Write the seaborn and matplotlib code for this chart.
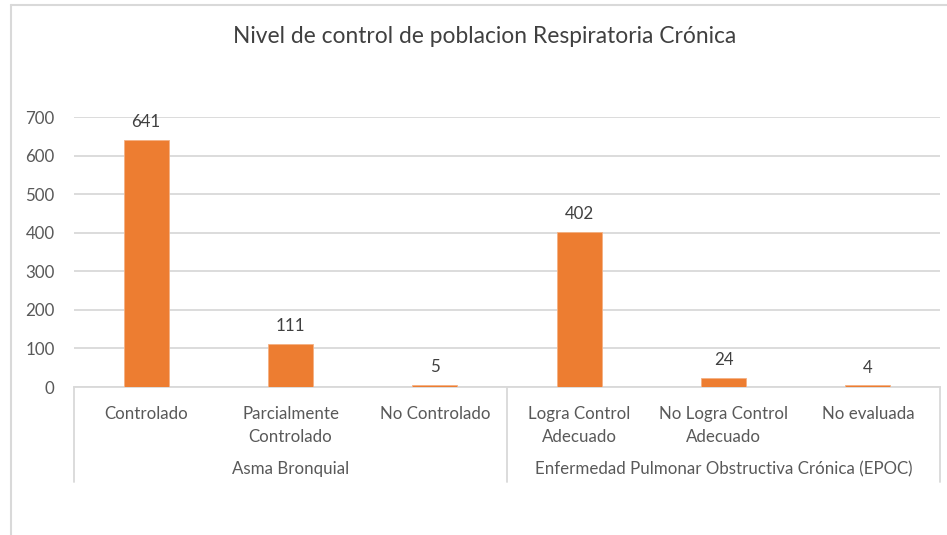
import matplotlib
matplotlib.use("Agg")
import matplotlib.pyplot as plt
import seaborn as sns
import pandas as pd

title = "Nivel de control de poblacion Respiratoria Crónica"
categorias = ["Controlado", "Parcialmente\nControlado", "No Controlado",
              "Logra Control\nAdecuado", "No Logra Control\nAdecuado", "No evaluada"]
grupos = ["Asma Bronquial", "Enfermedad Pulmonar Obstructiva Crónica (EPOC)"]
grupo_de = [0, 0, 0, 1, 1, 1]
valores = [641, 111, 5, 402, 24, 4]
yticks = [0, 100, 200, 300, 400, 500, 600, 700]

df = pd.DataFrame({"Categoria": categorias, "Valor": valores})

sns.set_style("white")
plt.rcParams["font.family"] = ["Lato", "DejaVu Sans"]
txt = "#595959"
grid = "#D9D9D9"
fs = 12.2

fig = plt.figure(figsize=(9.47, 5.35), dpi=100)
ax = fig.add_axes([74 / 947, 1 - 387 / 535, 866 / 947, 270 / 535])

sns.barplot(data=df, x="Categoria", y="Valor", order=categorias,
            color="#ED7D31", width=0.31, saturation=1, ax=ax,
            edgecolor="#F4B183", linewidth=0.6)
ax.bar_label(ax.containers[0], labels=[str(v) for v in valores],
             padding=7, fontsize=fs, color="#404040")

ax.set_xlim(-0.5, len(categorias) - 0.5)
ax.set_ylim(0, 700)
ax.set_yticks(yticks)
ax.set_yticklabels([str(t) for t in yticks], fontsize=fs, color=txt)
ax.yaxis.grid(True, color=grid, linewidth=1.3)
ax.set_axisbelow(True)
ax.set_xlabel("")
ax.set_ylabel("")
for s in ["top", "right", "left"]:
    ax.spines[s].set_visible(False)
ax.spines["bottom"].set_color(grid)
ax.spines["bottom"].set_linewidth(1.3)
ax.spines["bottom"].set_zorder(0.5)
ax.tick_params(axis="y", length=0, pad=14)
ax.tick_params(axis="x", length=0, pad=14)
ax.set_xticks(range(len(categorias)))
ax.set_xticklabels(categorias, fontsize=fs, color=txt, va="top",
                   linespacing=1.5)

# group labels and separators below the axis
trans = ax.get_xaxis_transform()
n_por_grupo = [grupo_de.count(g) for g in range(len(grupos))]
inicio = 0
for g, n in zip(grupos, n_por_grupo):
    centro = inicio + (n - 1) / 2
    ax.text(centro, -82 / 270, g, transform=trans, ha="center", va="center",
            fontsize=fs, color=txt)
    inicio += n
bordes = [-0.5, 2.5, 5.5]
for b in bordes:
    ax.plot([b, b], [0, -95 / 270], transform=trans, color=grid,
            linewidth=1.3, clip_on=False)

fig.text(485 / 947, 1 - 37 / 535, title, ha="center", va="center",
         fontsize=16.4, color="#404040")

# chart area border (cropped)
fig.add_artist(plt.Line2D([11 / 947, 11 / 947], [0, 1 - 5 / 535],
                          transform=fig.transFigure, color=grid, linewidth=1.5))
fig.add_artist(plt.Line2D([11 / 947, 1], [1 - 5 / 535, 1 - 5 / 535],
                          transform=fig.transFigure, color=grid, linewidth=1.5))

fig.savefig("out.png", dpi=100)
